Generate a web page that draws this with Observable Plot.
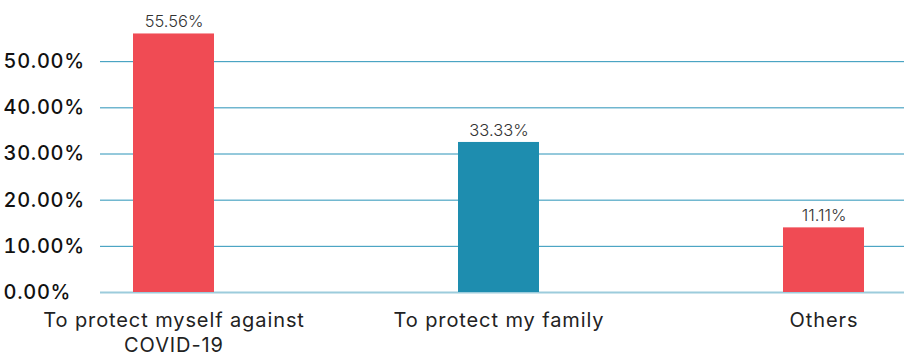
<!DOCTYPE html>
<html>
<head>
<meta charset="utf-8">
<script src="https://cdn.jsdelivr.net/npm/d3@7"></script>
<script src="https://cdn.jsdelivr.net/npm/@observablehq/plot@0.6"></script>
<style>
  html, body { margin: 0; padding: 0; background: #fff; }
  #chart { width: 904px; height: 356px; }
  #chart g[aria-label="x-axis tick label"] { letter-spacing: 0.9px; }
  #chart g[aria-label="y-axis tick label"] { letter-spacing: 0.7px; }
</style>
</head>
<body>
<div id="chart"></div>
<script>
const categories = ["To protect myself against COVID-19", "To protect my family", "Others"];
const values = [0.56, 0.325, 0.14];          // bar heights as drawn
const valueLabels = ["55.56%", "33.33%", "11.11%"];
const yTicks = [0, 0.1, 0.2, 0.3, 0.4, 0.5];
const barColors = ["#F04B54", "#1E8DAF", "#F04B54"];

const data = categories.map((c, i) => ({category: c, value: values[i], label: valueLabels[i]}));

const chart = Plot.plot({
  width: 904,
  height: 356,
  marginLeft: 100,
  marginRight: 0,
  marginTop: 15,
  marginBottom: 64,
  style: {fontFamily: "Inter, sans-serif", background: "#fff"},
  x: {domain: categories, paddingInner: 0.7515, paddingOuter: 0.109, align: 0.444, label: null},
  y: {domain: [0, 0.6], label: null},
  color: {domain: categories, range: barColors},
  marks: [
    Plot.gridY(yTicks, {stroke: "#2A93B8", strokeOpacity: 1, strokeWidth: 1}),
    Plot.ruleY([0], {stroke: "#9CCCDC", strokeWidth: 2}),
    Plot.barY(data, {x: "category", y: "value", fill: "category"}),
    Plot.text(data, {x: "category", y: "value", text: "label", dy: -12, fontSize: 16.5, fill: "#333", fontWeight: 300}),
    Plot.axisY(yTicks, {tickSize: 0, tickFormat: d3.format(".2%"), textAnchor: "start", dx: -88, fontSize: 20, fontWeight: 500, fill: "#111"}),
    Plot.axisX({tickSize: 0, tickPadding: 17, fontSize: 20, fill: "#222", lineWidth: 16, lineHeight: 1.25})
  ]
});
document.getElementById("chart").appendChild(chart);
</script>
</body>
</html>
